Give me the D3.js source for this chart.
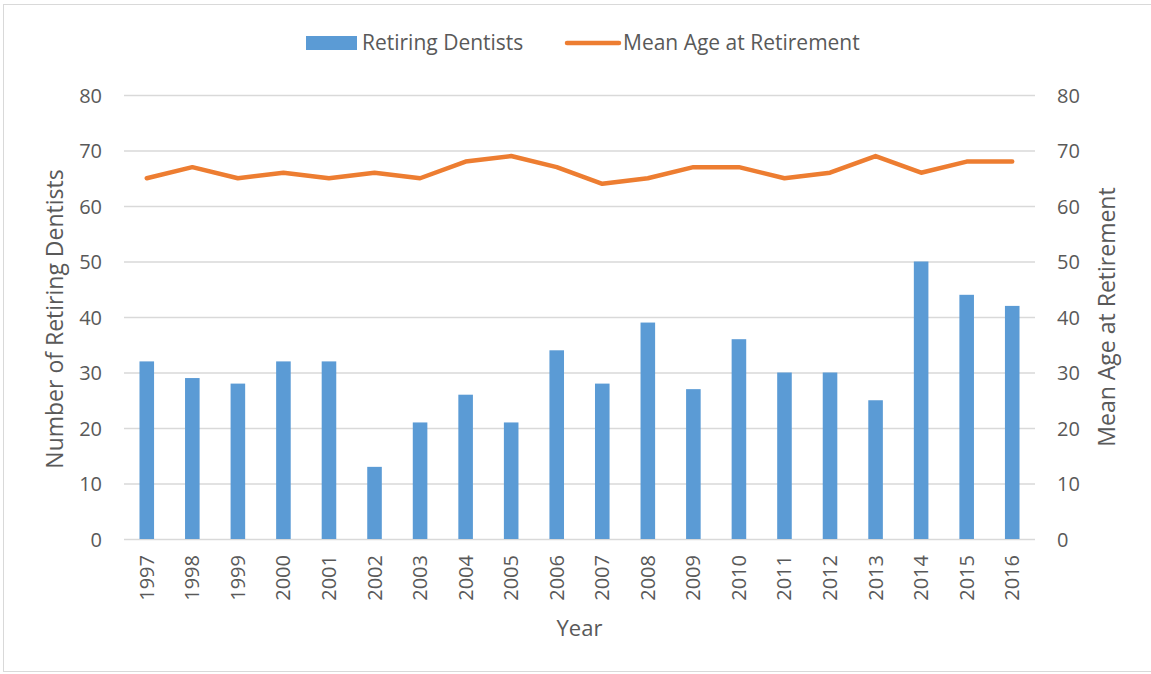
<!DOCTYPE html>
<html>
<head>
    <title>Retiring Dentists</title>
    <script src="https://d3js.org/d3.v7.min.js"></script>
    <style>
        body { margin: 0; background: #fff; }
        svg text { font-family: "Open Sans", "Noto Sans", sans-serif; fill: #595959; }
    </style>
</head>
<body>
    <div id="chart"></div>

    <script>
        // data
        var years = ["1997", "1998", "1999", "2000", "2001", "2002", "2003", "2004", "2005", "2006",
                     "2007", "2008", "2009", "2010", "2011", "2012", "2013", "2014", "2015", "2016"];
        var retiringDentists = [32, 29, 28, 32, 32, 13, 21, 26, 21, 34, 28, 39, 27, 36, 30, 30, 25, 50, 44, 42];
        var meanAge = [65, 67, 65, 66, 65, 66, 65, 68, 69, 67, 64, 65, 67, 67, 65, 66, 69, 66, 68, 68];
        var yTicks = [0, 10, 20, 30, 40, 50, 60, 70, 80];

        var width = 1151, height = 674;
        var plotLeft = 124, plotRight = 1035, plotTop = 95, plotBottom = 539;

        var svg = d3.select("#chart").append("svg")
            .attr("width", width)
            .attr("height", height);

        // outer frame
        svg.append("rect")
            .attr("x", 3.5).attr("y", 4.5)
            .attr("width", 1170).attr("height", 667)
            .attr("fill", "none")
            .attr("stroke", "#d9d9d9");

        var x = d3.scaleBand()
            .domain(years)
            .range([plotLeft, plotRight])
            .paddingInner(0.68)
            .paddingOuter(0.34);

        var yL = d3.scaleLinear().domain([0, 80]).range([plotBottom, plotTop]);
        var yR = d3.scaleLinear().domain([0, 80]).range([plotBottom, plotTop]);

        // gridlines
        svg.append("g").selectAll("line")
            .data(yTicks)
            .enter().append("line")
            .attr("x1", plotLeft).attr("x2", plotRight)
            .attr("y1", function(d) { return yL(d) + 0.5; })
            .attr("y2", function(d) { return yL(d) + 0.5; })
            .attr("stroke", "#d9d9d9")
            .attr("stroke-width", 1.3);

        // left axis
        var axL = svg.append("g")
            .attr("transform", "translate(102,0)")
            .call(d3.axisLeft(yL).tickValues(yTicks).tickSize(0).tickPadding(0));
        axL.select(".domain").remove();
        axL.selectAll("text").style("font-size", "20px").attr("dy", "0.35em");

        // right axis
        var axR = svg.append("g")
            .attr("transform", "translate(1057,0)")
            .call(d3.axisRight(yR).tickValues(yTicks).tickSize(0).tickPadding(0));
        axR.select(".domain").remove();
        axR.selectAll("text").style("font-size", "20px").attr("dy", "0.35em");

        // bars
        svg.append("g").selectAll("rect")
            .data(retiringDentists)
            .enter().append("rect")
            .attr("x", function(d, i) { return x(years[i]); })
            .attr("width", x.bandwidth())
            .attr("y", function(d) { return yL(d); })
            .attr("height", function(d) { return yL(0) - yL(d); })
            .attr("fill", "#5b9bd5");

        // line
        var line = d3.line()
            .x(function(d, i) { return x(years[i]) + x.bandwidth() / 2; })
            .y(function(d) { return yR(d); });

        svg.append("path")
            .datum(meanAge)
            .attr("d", line)
            .attr("fill", "none")
            .attr("stroke", "#ed7d31")
            .attr("stroke-width", 4.5)
            .attr("stroke-linecap", "round")
            .attr("stroke-linejoin", "round");

        // x axis labels
        var axX = svg.append("g")
            .attr("transform", "translate(0," + plotBottom + ")")
            .call(d3.axisBottom(x).tickSize(0));
        axX.select(".domain").remove();
        axX.selectAll("text")
            .style("font-size", "20px")
            .attr("text-anchor", "end")
            .attr("transform", "rotate(-90)")
            .attr("x", -16)
            .attr("y", 0)
            .attr("dy", "0.35em");

        // axis titles
        svg.append("text")
            .attr("transform", "translate(55," + ((plotTop + plotBottom) / 2 + 2) + ") rotate(-90)")
            .attr("text-anchor", "middle")
            .attr("dy", "0.35em")
            .style("font-size", "23px")
            .text("Number of Retiring Dentists");

        svg.append("text")
            .attr("transform", "translate(1107," + ((plotTop + plotBottom) / 2) + ") rotate(-90)")
            .attr("text-anchor", "middle")
            .attr("dy", "0.35em")
            .style("font-size", "23px")
            .text("Mean Age at Retirement");

        svg.append("text")
            .attr("x", (plotLeft + plotRight) / 2)
            .attr("y", 636)
            .attr("text-anchor", "middle")
            .style("font-size", "22px")
            .text("Year");

        // legend
        var legend = svg.append("g");
        legend.append("rect")
            .attr("x", 306).attr("y", 36)
            .attr("width", 51).attr("height", 14)
            .attr("fill", "#5b9bd5");
        legend.append("text")
            .attr("x", 362).attr("y", 43)
            .attr("dy", "0.35em")
            .style("font-size", "21px")
            .text("Retiring Dentists");
        legend.append("line")
            .attr("x1", 567).attr("x2", 619)
            .attr("y1", 43).attr("y2", 43)
            .attr("stroke", "#ed7d31")
            .attr("stroke-width", 4.5)
            .attr("stroke-linecap", "round");
        legend.append("text")
            .attr("x", 623).attr("y", 43)
            .attr("dy", "0.35em")
            .style("font-size", "21px")
            .text("Mean Age at Retirement");
    </script>
</body>
</html>
